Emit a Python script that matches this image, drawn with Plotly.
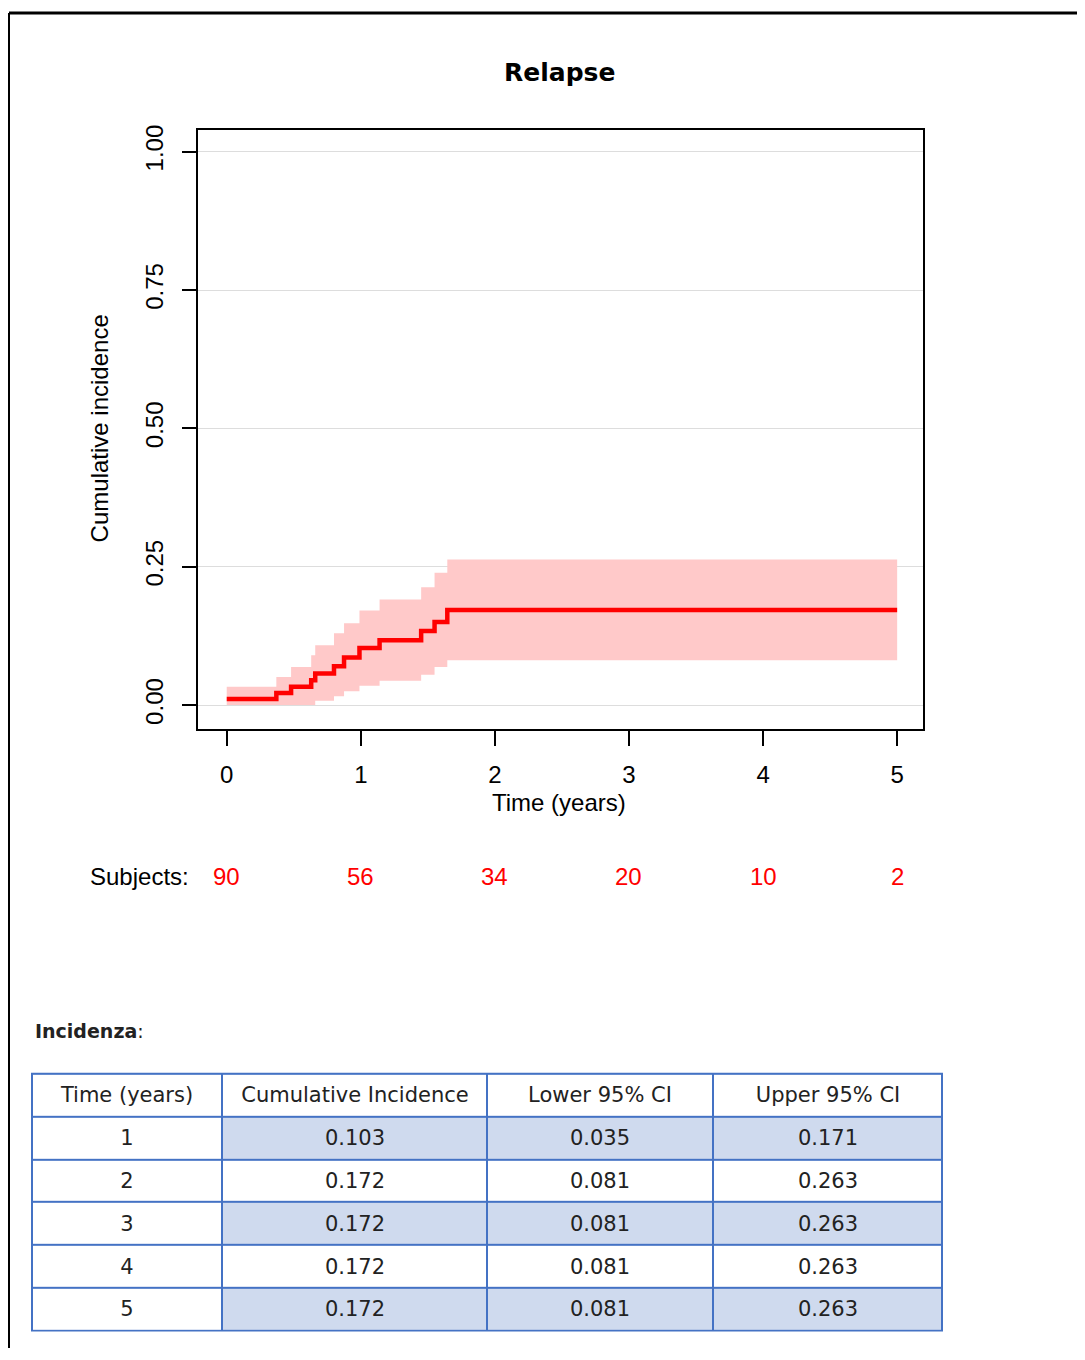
import plotly.graph_objects as go

# ---------------- data ----------------
event_times = [0, 0.37, 0.48, 0.63, 0.66, 0.80, 0.875, 0.99, 1.14, 1.45, 1.55, 1.645, 5.0]
cum_inc     = [0.011, 0.022, 0.033, 0.045, 0.057, 0.070, 0.086, 0.103, 0.117, 0.134, 0.150, 0.172, 0.172]
ci_lower    = [0.0, 0.0, 0.0, 0.0, 0.008, 0.016, 0.025, 0.035, 0.044, 0.055, 0.069, 0.081, 0.081]
ci_upper    = [0.033, 0.051, 0.069, 0.090, 0.108, 0.130, 0.148, 0.171, 0.191, 0.213, 0.239, 0.263, 0.263]

x_ticks = [0, 1, 2, 3, 4, 5]
y_ticks = [0.0, 0.25, 0.5, 0.75, 1.0]
y_tick_labels = ["0.00", "0.25", "0.50", "0.75", "1.00"]
risk_times = [0, 1, 2, 3, 4, 5]
subjects = [90, 56, 34, 20, 10, 2]

tbl_header = ["Time (years)", "Cumulative Incidence", "Lower 95% CI", "Upper 95% CI"]
tbl_time  = ["1", "2", "3", "4", "5"]
tbl_ci    = ["0.103", "0.172", "0.172", "0.172", "0.172"]
tbl_low   = ["0.035", "0.081", "0.081", "0.081", "0.081"]
tbl_up    = ["0.171", "0.263", "0.263", "0.263", "0.263"]

# ---------------- geometry helpers (page px -> paper) ----------------
OFFX, OFFY = 8, 12
W, H = 1069, 1340


def PX(px):
    return (px - OFFX) / W


def PY(py):
    # small empirical correction so lower elements land where intended
    adj = 3.5 * max(py - 100, 0) / 1231
    return 1 - (py - OFFY + adj) / H


FONT_R = "Liberation Sans, Arial, sans-serif"
TBL_FONT = "DejaVu Sans"

fig = go.Figure()

# CI band
fig.add_trace(go.Scatter(x=event_times, y=ci_upper, mode="lines", line=dict(width=0, shape="hv"),
                         showlegend=False, hoverinfo="skip"))
fig.add_trace(go.Scatter(x=event_times, y=ci_lower, mode="lines", line=dict(width=0, shape="hv"),
                         fill="tonexty", fillcolor="#ffc9c9", showlegend=False, hoverinfo="skip"))
# cumulative incidence
fig.add_trace(go.Scatter(x=event_times, y=cum_inc, mode="lines",
                         line=dict(color="#ff0000", width=4.5, shape="hv"), showlegend=False))

# ---------------- table (heatmap cells with gaps as borders) ----------------
col_widths = [190, 265, 226, 229]
x_edges = [0]
for w in col_widths:
    x_edges.append(x_edges[-1] + w)
n_rows = len(tbl_time) + 1
y_edges = list(range(n_rows + 1))
columns = [tbl_time, tbl_ci, tbl_low, tbl_up]
cell_text = [tbl_header] + [[columns[c][r] for c in range(4)] for r in range(len(tbl_time))]
cell_fill = [[0, 0, 0, 0]] + [[0] + ([1, 1, 1] if r % 2 == 0 else [0, 0, 0]) for r in range(len(tbl_time))]

fig.add_trace(go.Heatmap(
    x=x_edges, y=y_edges, z=cell_fill, text=cell_text, texttemplate="%{text}",
    textfont=dict(family=TBL_FONT, size=21, color="#222222"),
    colorscale=[[0, "white"], [1, "#cfdaee"]], zmin=0, zmax=1, showscale=False,
    xgap=2, ygap=2, hoverinfo="skip", xaxis="x2", yaxis="y2",
))

fig.update_layout(
    width=W, height=H, margin=dict(l=0, r=0, t=0, b=0),
    paper_bgcolor="white", plot_bgcolor="white",
    xaxis=dict(domain=[PX(198.3), PX(923.3)], range=[-0.212, 5.195],
               tickmode="array", tickvals=x_ticks, ticktext=[str(t) for t in x_ticks],
               ticks="outside", ticklen=15, tickwidth=1.5, tickcolor="black",
               showline=True, linecolor="black", linewidth=1.5, mirror=True,
               showgrid=False, zeroline=False, ticklabelstandoff=8,
               tickfont=dict(family=FONT_R, size=24, color="black")),
    yaxis=dict(domain=[PY(729.3), PY(129.3)], range=[-0.0439, 1.0392],
               tickmode="array", tickvals=y_ticks, ticktext=y_tick_labels, tickangle=-90,
               ticks="outside", ticklen=15, tickwidth=1.5, tickcolor="black",
               showline=True, linecolor="black", linewidth=1.5, mirror=True,
               showgrid=True, gridcolor="#dddddd", gridwidth=1, zeroline=False,
               ticklabelstandoff=9,
               tickfont=dict(family=FONT_R, size=24, color="black")),
    xaxis2=dict(domain=[PX(32), PX(942)], range=[x_edges[0], x_edges[-1]], anchor="y2",
                visible=False, fixedrange=True),
    yaxis2=dict(domain=[PY(1331), PY(1074)], range=[y_edges[-1], y_edges[0]], anchor="x2",
                visible=False, fixedrange=True),
)

# table border background
fig.add_shape(type="rect", xref="paper", yref="paper", layer="below",
              x0=PX(31), x1=PX(943), y0=PY(1332), y1=PY(1073),
              fillcolor="#4472c4", line=dict(width=0))

ann = [
    dict(text="<b>Relapse</b>", x=PX(559), y=PY(72), font=dict(family="DejaVu Sans", size=25, color="black")),
    dict(text="Time (years)", x=PX(559), y=PY(802), font=dict(family=FONT_R, size=24, color="black")),
    dict(text="Cumulative incidence", x=PX(99), y=PY(428), textangle=-90,
         font=dict(family=FONT_R, size=24, color="black")),
    dict(text="Subjects:", x=PX(191), y=PY(877), xanchor="right",
         font=dict(family=FONT_R, size=24, color="black")),
    dict(text="<b>Incidenza</b>:", x=PX(33), y=PY(1031), xanchor="left",
         font=dict(family=TBL_FONT, size=19, color="#222222")),
]
for a in ann:
    a.setdefault("xanchor", "center")
    fig.add_annotation(xref="paper", yref="paper", yanchor="middle", showarrow=False, **a)

for t, n in zip(risk_times, subjects):
    fig.add_annotation(x=t, xref="x", y=PY(877), yref="paper", text=str(n), showarrow=False,
                       xanchor="center", yanchor="middle",
                       font=dict(family=FONT_R, size=24, color="#ff0000"))

# outer frame (left and top edges)
fig.add_shape(type="line", xref="paper", yref="paper", x0=PX(9), x1=1.0, y0=1.0, y1=1.0,
              line=dict(color="black", width=3))
fig.add_shape(type="line", xref="paper", yref="paper", x0=PX(9), x1=PX(9), y0=1.0, y1=0,
              line=dict(color="black", width=2))

fig.write_html("out.html")
